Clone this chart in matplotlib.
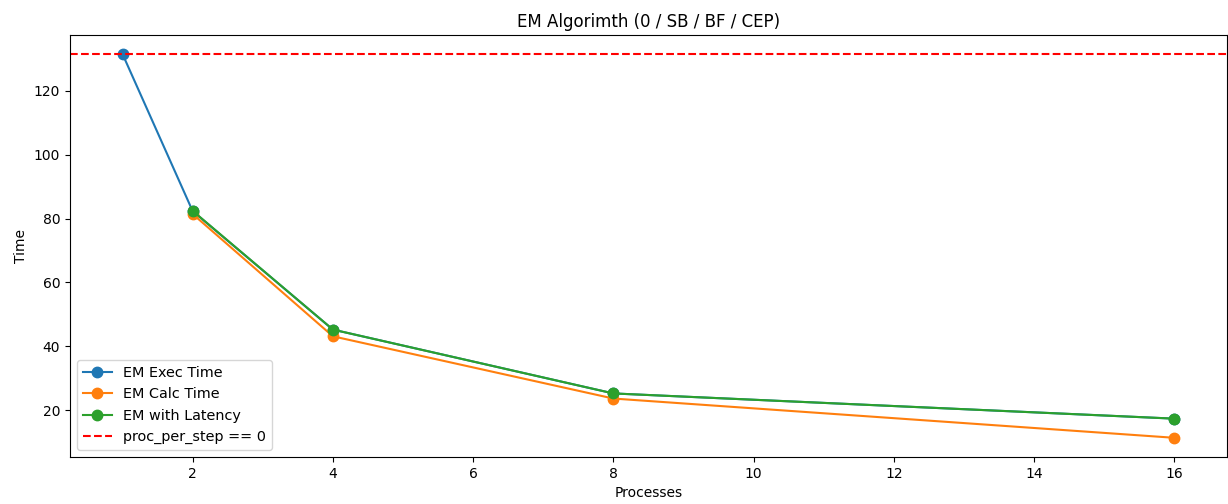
import matplotlib.pyplot as plt

# measured timings per process count
procs = [1, 2, 4, 8, 16]
exec_time = [131.5, 82.3, 45.2, 25.2, 17.3]
calc_procs = [2, 4, 8, 16]
calc_time = [81.4, 43.1, 23.6, 11.3]
latency_time = [82.4, 45.2, 25.2, 17.3]
baseline = 131.5

fig, ax = plt.subplots(figsize=(12.28, 5.04), dpi=100)
fig.subplots_adjust(left=0.057, right=0.999, top=0.9306, bottom=0.0933)

ax.plot(procs, exec_time, marker='o', markersize=7.5, label='EM Exec Time')
ax.plot(calc_procs, calc_time, marker='o', markersize=7.5, label='EM Calc Time')
ax.plot(calc_procs, latency_time, marker='o', markersize=7.5, label='EM with Latency')
ax.axhline(baseline, color='red', linestyle='--', label='proc_per_step == 0')

ax.set_title('EM Algorimth (0 / SB / BF / CEP)')
ax.set_xlabel('Processes')
ax.set_ylabel('Time')
ax.legend(loc='lower left', fontsize=10.4)

fig.savefig('out.png')
